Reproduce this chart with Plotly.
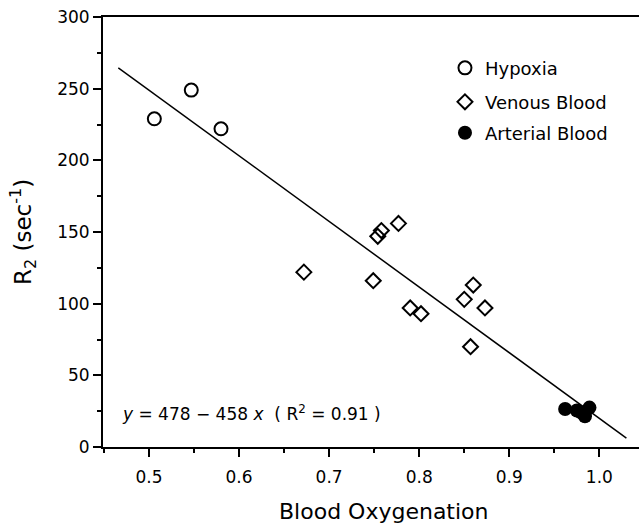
import plotly.graph_objects as go

# Data
hypoxia_x = [0.506, 0.547, 0.580]
hypoxia_y = [229, 249, 222]

venous_x = [0.672, 0.749, 0.754, 0.758, 0.777, 0.790, 0.802, 0.850, 0.857, 0.860, 0.873]
venous_y = [122, 116, 147, 151, 156, 97, 93, 103, 70, 113, 97]

arterial_x = [0.962, 0.975, 0.980, 0.984, 0.989]
arterial_y = [26.5, 25.5, 24.0, 21.5, 27.5]

fit_intercept = 478
fit_slope = -458
fit_x = [0.466, 1.030]
fit_y = [fit_intercept + fit_slope * v for v in fit_x]

x_ticks = [0.5, 0.6, 0.7, 0.8, 0.9, 1.0]
y_ticks = [0, 50, 100, 150, 200, 250, 300]

FONT = "DejaVu Sans, Liberation Sans, Arial, sans-serif"
BLACK = "black"

fig = go.Figure()

fig.add_trace(go.Scatter(
    x=fit_x, y=fit_y, mode="lines",
    line=dict(color=BLACK, width=1.5),
    showlegend=False, hoverinfo="skip"))

fig.add_trace(go.Scatter(
    x=hypoxia_x, y=hypoxia_y, mode="markers", name="Hypoxia", legend="legend",
    marker=dict(symbol="circle-open", size=13, color=BLACK,
                line=dict(width=2, color=BLACK))))

fig.add_trace(go.Scatter(
    x=venous_x, y=venous_y, mode="markers", name="Venous Blood", legend="legend2",
    marker=dict(symbol="diamond-open", size=11.5, color=BLACK,
                line=dict(width=2, color=BLACK))))

fig.add_trace(go.Scatter(
    x=arterial_x, y=arterial_y, mode="markers", name="Arterial Blood", legend="legend3",
    marker=dict(symbol="circle", size=14, color=BLACK,
                line=dict(width=0))))

fig.add_annotation(
    x=0.4674, y=24, xref="x", yref="y", xanchor="left", yanchor="middle",
    text="<i>y</i> = 478 \u2212 458 <i>x</i>  ( R<sup>2</sup> = 0.91 )",
    showarrow=False, font=dict(family=FONT, size=17, color=BLACK))

# axis titles
fig.add_annotation(
    x=0.524, y=-0.150, xref="paper", yref="paper", xanchor="center", yanchor="middle",
    text="Blood Oxygenation", showarrow=False,
    font=dict(family=FONT, size=22, color=BLACK))
fig.add_annotation(
    x=-0.151, y=0.5, xref="paper", yref="paper", xanchor="center", yanchor="middle",
    text="R<sub>2</sub> (sec<sup>-1</sup>)", textangle=-90, showarrow=False,
    font=dict(family=FONT, size=23, color=BLACK))

leg_common = dict(xanchor="left", yanchor="middle",
                  font=dict(family=FONT, size=18, color=BLACK),
                  bgcolor="rgba(0,0,0,0)", itemwidth=30, borderwidth=0)

fig.update_layout(
    width=639, height=527,
    margin=dict(l=103, r=0, t=17, b=80),
    paper_bgcolor="white", plot_bgcolor="white",
    font=dict(family=FONT, color=BLACK),
    legend=dict(x=0.638, y=0.881, **leg_common),
    legend2=dict(x=0.638, y=0.802, **leg_common),
    legend3=dict(x=0.638, y=0.730, **leg_common),
    xaxis=dict(
        range=[0.449, 1.044], tickvals=x_ticks, tickformat=".1f",
        ticks="outside", ticklen=8, tickwidth=1.5, tickcolor=BLACK,
        showline=True, linecolor=BLACK, linewidth=1.5, mirror=True,
        showgrid=False, zeroline=False, ticklabelstandoff=6,
        tickfont=dict(family=FONT, size=17, color=BLACK),
        minor=dict(dtick=0.05, tick0=0, ticks="outside", ticklen=4,
                   tickwidth=1.5, tickcolor=BLACK, showgrid=False)),
    yaxis=dict(
        range=[0, 300], tickvals=y_ticks,
        ticks="outside", ticklen=8, tickwidth=1.5, tickcolor=BLACK,
        showline=True, linecolor=BLACK, linewidth=2, mirror=False,
        showgrid=False, zeroline=False,
        tickfont=dict(family=FONT, size=17, color=BLACK),
        minor=dict(dtick=25, tick0=0, ticks="outside", ticklen=4,
                   tickwidth=1.5, tickcolor=BLACK, showgrid=False)),
)

fig.write_html("out.html")
